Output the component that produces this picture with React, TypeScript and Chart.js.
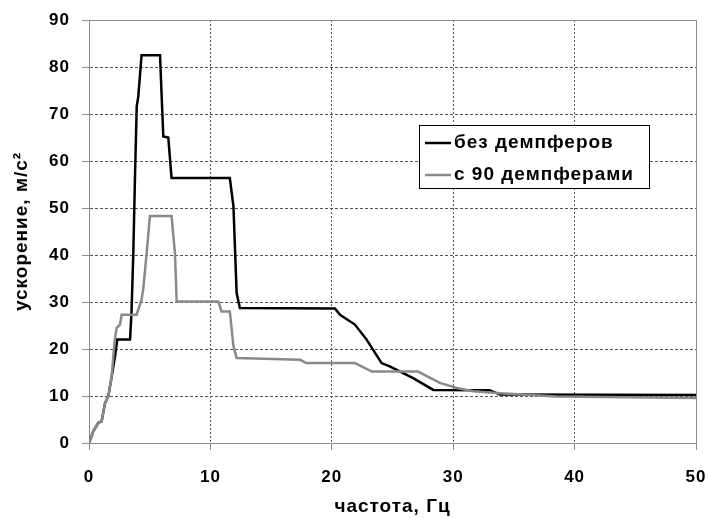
import React, { useEffect, useRef } from "react";
import { Chart, registerables } from "chart.js";

Chart.register(...registerables);

const seriesLabels = ["без демпферов", "с 90 демпферами"];

const freqNoDamp = [0, 0.35, 0.77, 1.04, 1.32, 1.59, 1.87, 2.14, 2.33, 3.38, 3.5, 3.65, 3.78, 3.93, 4.06, 4.33, 5.85, 6.12, 6.53, 6.8, 11.6, 11.9, 12.16, 12.43, 20.26, 20.68, 21.9, 22.87, 24.1, 24.77, 26.7, 28.36, 33.0, 33.86, 50];
const accNoDamp = [0, 2.5, 4.3, 4.6, 8.5, 9.9, 14.2, 18.4, 22, 22, 27.7, 40.4, 55.7, 71.6, 73.7, 82.5, 82.5, 65.2, 65, 56.4, 56.4, 50.3, 31.9, 28.7, 28.6, 27.3, 25.2, 22, 17, 16.3, 13.8, 11.3, 11.2, 10.3, 10.2];

const freqDamp = [0, 0.35, 0.77, 1.04, 1.32, 1.59, 1.87, 2.0, 2.14, 2.28, 2.55, 2.69, 3.92, 4.33, 4.46, 4.75, 5.02, 6.8, 7.08, 7.22, 10.65, 10.92, 11.6, 11.9, 12.16, 17.4, 17.9, 21.9, 23.3, 27.1, 28.9, 30.3, 31.65, 33.9, 38.5, 50];
const accDamp = [0, 2.5, 4.3, 4.6, 8.5, 9.9, 14.2, 18.4, 22.3, 24.5, 25.2, 27.3, 27.3, 30.5, 32.6, 40.4, 48.3, 48.3, 40.4, 30.1, 30.1, 28, 28, 20.6, 18.1, 17.7, 17, 17, 15.2, 15.2, 12.8, 11.7, 11, 10.6, 9.9, 9.6];

const xTitle = "частота, Гц";
const yTitle = "ускорение, м/с²";

const FONT = "'Liberation Sans', Arial, sans-serif";
const lineColors = ["#000000", "#8a8a8a"];

const spacingPlugin = {
  id: "spacing",
  beforeUpdate(chart: any) {
    (chart.ctx as any).letterSpacing = "1px";
  },
  beforeDraw(chart: any) {
    (chart.ctx as any).letterSpacing = "1px";
  },
};

const framePlugin = {
  id: "frame",
  beforeDatasetsDraw(chart: any) {
    const { ctx, chartArea } = chart;
    ctx.save();
    ctx.strokeStyle = "#8c8c8c";
    ctx.lineWidth = 1;
    ctx.setLineDash([]);
    ctx.strokeRect(
      Math.round(chartArea.left) + 0.5,
      Math.round(chartArea.top) + 0.5,
      Math.round(chartArea.right - chartArea.left),
      Math.round(chartArea.bottom - chartArea.top)
    );
    ctx.restore();
  },
};

const legendPlugin = {
  id: "boxLegend",
  afterDraw(chart: any) {
    const { ctx } = chart;
    const bx = 419, by = 125, bw = 230, bh = 63;
    ctx.save();
    ctx.fillStyle = "#ffffff";
    ctx.fillRect(bx, by, bw, bh);
    ctx.strokeStyle = "#000000";
    ctx.lineWidth = 1;
    ctx.setLineDash([]);
    ctx.strokeRect(bx + 0.5, by + 0.5, bw, bh);
    const rows = [143, 175];
    chart.data.datasets.forEach((ds: any, i: number) => {
      const y = rows[i];
      ctx.strokeStyle = ds.borderColor;
      ctx.lineWidth = 2.5;
      ctx.beginPath();
      ctx.moveTo(425, y);
      ctx.lineTo(451, y);
      ctx.stroke();
      ctx.fillStyle = "#000000";
      ctx.font = `bold 19px ${FONT}`;
      ctx.textAlign = "left";
      ctx.textBaseline = "middle";
      ctx.fillText(ds.label, 454, y);
    });
    ctx.restore();
  },
};

export default function App() {
  const canvasRef = useRef<HTMLCanvasElement | null>(null);

  useEffect(() => {
    if (!canvasRef.current) return;
    const toPoints = (xs: number[], ys: number[]) => xs.map((x, i) => ({ x, y: ys[i] }));
    const chart = new Chart(canvasRef.current, {
      type: "line",
      data: {
        datasets: [
          {
            label: seriesLabels[0],
            data: toPoints(freqNoDamp, accNoDamp),
            borderColor: lineColors[0],
            backgroundColor: lineColors[0],
            borderWidth: 2.5,
            pointRadius: 0,
            tension: 0,
            fill: false,
            order: 1,
          },
          {
            label: seriesLabels[1],
            data: toPoints(freqDamp, accDamp),
            borderColor: lineColors[1],
            backgroundColor: lineColors[1],
            borderWidth: 2.5,
            pointRadius: 0,
            tension: 0,
            fill: false,
            order: 0,
          },
        ],
      },
      options: {
        animation: false,
        responsive: true,
        maintainAspectRatio: false,
        layout: { padding: { top: 20, right: 13, left: 0, bottom: 0 } },
        plugins: {
          legend: { display: false },
          tooltip: { enabled: false },
        },
        scales: {
          x: {
            type: "linear",
            min: 0,
            max: 50,
            afterFit(scale: any) {
              scale.height = 75;
              scale.paddingLeft = 0;
              scale.paddingRight = 0;
            },
            ticks: {
              stepSize: 10,
              color: "#000",
              padding: 17,
              maxRotation: 0,
              font: { family: FONT, size: 17, weight: "bold" },
            },
            grid: {
              color: "#555",
              lineWidth: 1,
              tickColor: "#8c8c8c",
              tickLength: 7,
              tickBorderDash: [],
            },
            border: { color: "#8c8c8c", width: 1, dash: [2, 2] },
            title: {
              display: true,
              text: xTitle,
              color: "#000",
              padding: { top: 0, bottom: 0 },
              font: { family: FONT, size: 19, weight: "bold" },
            },
          },
          y: {
            type: "linear",
            min: 0,
            max: 90,
            afterFit(scale: any) {
              scale.width = 89;
              scale.paddingTop = 0;
              scale.paddingBottom = 0;
            },
            ticks: {
              stepSize: 10,
              color: "#000",
              padding: 12,
              font: { family: FONT, size: 17, weight: "bold" },
            },
            grid: {
              color: "#555",
              lineWidth: 1,
              tickColor: "#8c8c8c",
              tickLength: 7,
              tickBorderDash: [],
            },
            border: { color: "#8c8c8c", width: 1, dash: [3, 2] },
            title: {
              display: true,
              text: yTitle,
              color: "#000",
              padding: { top: 10, bottom: 0 },
              font: { family: FONT, size: 19, weight: "bold" },
            },
          },
        },
      } as any,
      plugins: [spacingPlugin, framePlugin, legendPlugin],
    });
    return () => chart.destroy();
  }, []);

  return (
    <div
      style={{
        position: "fixed",
        left: 0,
        top: 0,
        width: 709,
        height: 518,
        background: "#ffffff",
      }}
    >
      <canvas ref={canvasRef} />
    </div>
  );
}
